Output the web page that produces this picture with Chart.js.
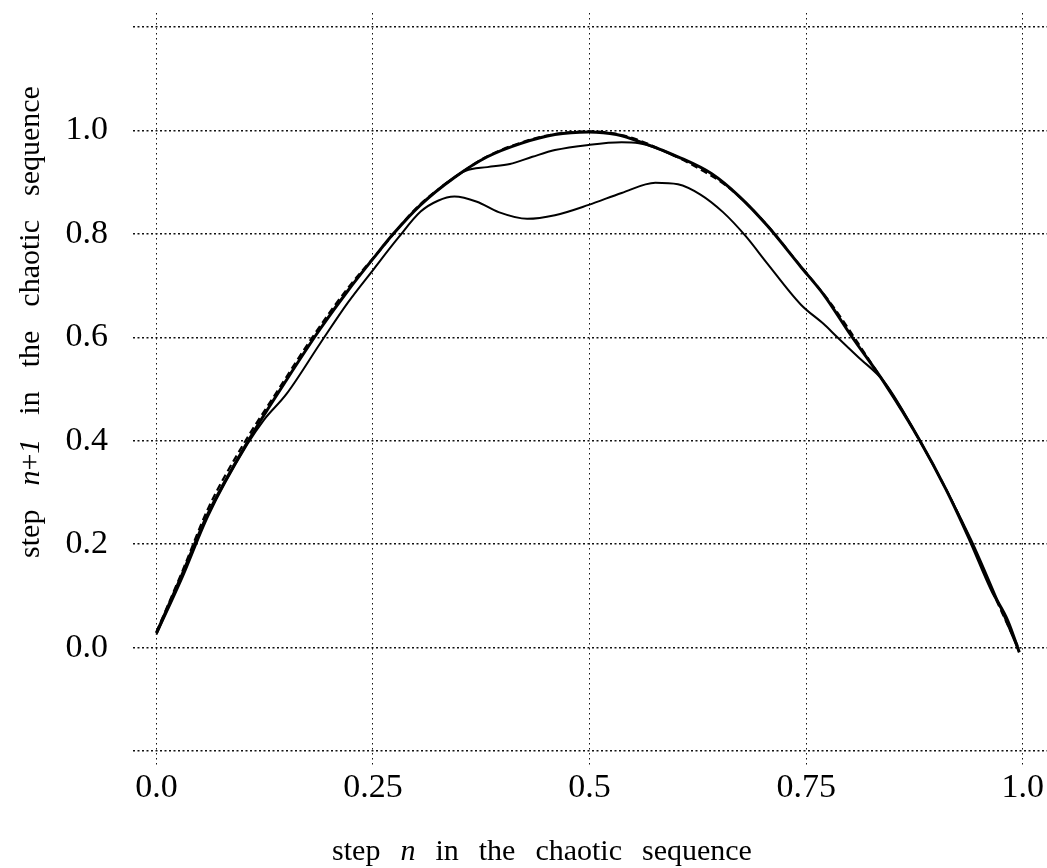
<!DOCTYPE html>
<html>
<head>
<meta charset="utf-8">
<script src="https://cdn.jsdelivr.net/npm/chart.js@4.4.0/dist/chart.umd.min.js"></script>
<style>
  html, body { margin: 0; padding: 0; background: #fff; }
  #wrap { width: 1047px; height: 868px; }
</style>
</head>
<body>
<div id="wrap"><canvas id="map" width="1047" height="868"></canvas></div>
<script>
// tick positions and labels
const xTicks = [0, 0.25, 0.5, 0.75, 1.0];
const xTickLabels = ["0.0", "0.25", "0.5", "0.75", "1.0"];
const yTicks = [-0.2, 0, 0.2, 0.4, 0.6, 0.8, 1.0, 1.2];
const yTickLabels = ["", "0.0", "0.2", "0.4", "0.6", "0.8", "1.0", ""];

// axis titles, split in words (i = italic)
const xTitle = [[{ t: "step" }], [{ t: "n", i: true }], [{ t: "in" }], [{ t: "the" }], [{ t: "chaotic" }], [{ t: "sequence" }]];
const yTitle = [[{ t: "step" }], [{ t: "n", i: true }, { t: "+" }, { t: "1", i: true }], [{ t: "in" }], [{ t: "the" }], [{ t: "chaotic" }], [{ t: "sequence" }]];

// heavy solid curve
const mainX = [0.0, 0.027, 0.059, 0.105, 0.15, 0.189, 0.221, 0.253, 0.273, 0.305, 0.344, 0.382, 0.421, 0.46, 0.499, 0.531, 0.563, 0.602, 0.641, 0.673, 0.705, 0.744, 0.77, 0.802, 0.841, 0.88, 0.912, 0.938, 0.964, 0.983, 0.996];
const mainY = [0.028, 0.131, 0.257, 0.397, 0.517, 0.616, 0.69, 0.758, 0.799, 0.856, 0.909, 0.949, 0.975, 0.992, 0.997, 0.992, 0.975, 0.949, 0.916, 0.872, 0.816, 0.736, 0.683, 0.603, 0.51, 0.404, 0.304, 0.211, 0.111, 0.051, -0.009];

// dashed curve, lying on top of the heavy one
const dashX = [0.0, 0.03, 0.06, 0.1, 0.14, 0.18, 0.22, 0.26, 0.3, 0.34, 0.38, 0.42, 0.46, 0.5, 0.54, 0.58, 0.62, 0.66, 0.7, 0.74, 0.78, 0.82, 0.86, 0.9, 0.94, 0.97, 0.995];
const dashY = [0.03, 0.148, 0.27, 0.392, 0.497, 0.6, 0.693, 0.772, 0.85, 0.904, 0.948, 0.976, 0.993, 0.998, 0.99, 0.965, 0.932, 0.89, 0.826, 0.745, 0.662, 0.563, 0.46, 0.343, 0.207, 0.09, 0.0];

// curve with the flat top
const midX = [0.33, 0.357, 0.382, 0.408, 0.434, 0.46, 0.499, 0.537, 0.557, 0.575, 0.6];
const midY = [0.893, 0.922, 0.929, 0.935, 0.949, 0.962, 0.972, 0.977, 0.975, 0.967, 0.949];

// curve with two humps
const lowX = [0.0, 0.03, 0.06, 0.105, 0.124, 0.15, 0.189, 0.221, 0.25, 0.279, 0.305, 0.325, 0.344, 0.37, 0.395, 0.428, 0.46, 0.499, 0.537, 0.576, 0.602, 0.628, 0.654, 0.68, 0.705, 0.744, 0.77, 0.786, 0.81, 0.841, 0.88, 0.94, 0.996];
const lowY = [0.025, 0.135, 0.255, 0.393, 0.44, 0.49, 0.588, 0.667, 0.73, 0.792, 0.843, 0.864, 0.872, 0.862, 0.842, 0.829, 0.836, 0.856, 0.879, 0.899, 0.896, 0.876, 0.842, 0.796, 0.743, 0.663, 0.626, 0.6, 0.562, 0.512, 0.404, 0.21, -0.009];

const serif = "'Liberation Serif', 'DejaVu Serif', serif";

function pts(xs, ys) {
  return xs.map((x, i) => ({ x: x, y: ys[i] }));
}

function drawWords(c, words, cx, cy, angle, size, gap) {
  const fontOf = (p) => (p.i ? "italic " : "") + size + "px " + serif;
  c.save();
  c.translate(cx, cy);
  c.rotate(angle);
  c.fillStyle = "#000";
  c.textBaseline = "middle";
  c.textAlign = "left";
  const widths = words.map((w) => {
    let ww = 0;
    w.forEach((p) => { c.font = fontOf(p); ww += c.measureText(p.t).width; });
    return ww;
  });
  const total = widths.reduce((a, b) => a + b, 0) + gap * (words.length - 1);
  let x = -total / 2;
  words.forEach((w, k) => {
    let px = x;
    w.forEach((p) => {
      c.font = fontOf(p);
      c.fillText(p.t, px, 0);
      px += c.measureText(p.t).width;
    });
    x += widths[k] + gap;
  });
  c.restore();
}

const axisTitles = {
  id: "axisTitles",
  afterDraw(chart) {
    drawWords(chart.ctx, xTitle, 542, 852, 0, 30, 20);
    drawWords(chart.ctx, yTitle, 31, 322, -Math.PI / 2, 30, 24);
  }
};

const ctx = document.getElementById("map").getContext("2d");
const line = (data, width, dash) => ({
  data: data,
  borderColor: "#000",
  borderWidth: width,
  borderDash: dash,
  pointRadius: 0,
  fill: false,
  cubicInterpolationMode: "monotone"
});

new Chart(ctx, {
  type: "line",
  data: {
    datasets: [
      line(pts(mainX, mainY), 3, []),
      line(pts(dashX, dashY), 2.2, [7, 4]),
      line(pts(midX, midY), 2, []),
      line(pts(lowX, lowY), 2, [])
    ]
  },
  options: {
    responsive: false,
    animation: false,
    layout: { padding: { top: 13, right: 0, bottom: 0, left: 0 } },
    plugins: {
      legend: { display: false },
      tooltip: { enabled: false }
    },
    scales: {
      x: {
        type: "linear",
        min: -0.027,
        max: 1.028,
        afterBuildTicks: (s) => { s.ticks = xTicks.map((v) => ({ value: v })); },
        afterFit: (s) => { s.height = 103; s.paddingLeft = 0; s.paddingRight = 0; },
        ticks: {
          callback: (v) => xTickLabels[xTicks.indexOf(v)],
          font: { family: serif, size: 34 },
          color: "#000",
          padding: 3,
          maxRotation: 0,
          autoSkip: false
        },
        grid: { color: "#111", lineWidth: 1, drawTicks: false },
        border: { display: false, dash: [1.5, 3.5] }
      },
      y: {
        type: "linear",
        min: -0.227,
        max: 1.227,
        afterBuildTicks: (s) => { s.ticks = yTicks.map((v) => ({ value: v })); },
        afterFit: (s) => { s.width = 133; s.paddingTop = 0; s.paddingBottom = 0; },
        ticks: {
          callback: (v) => yTickLabels[yTicks.indexOf(v)],
          font: { family: serif, size: 34 },
          color: "#000",
          padding: 25,
          autoSkip: false
        },
        grid: { color: "#111", lineWidth: 1.4, drawTicks: false },
        border: { display: false, dash: [2, 2.5] }
      }
    }
  },
  plugins: [axisTitles]
});
</script>
</body>
</html>
